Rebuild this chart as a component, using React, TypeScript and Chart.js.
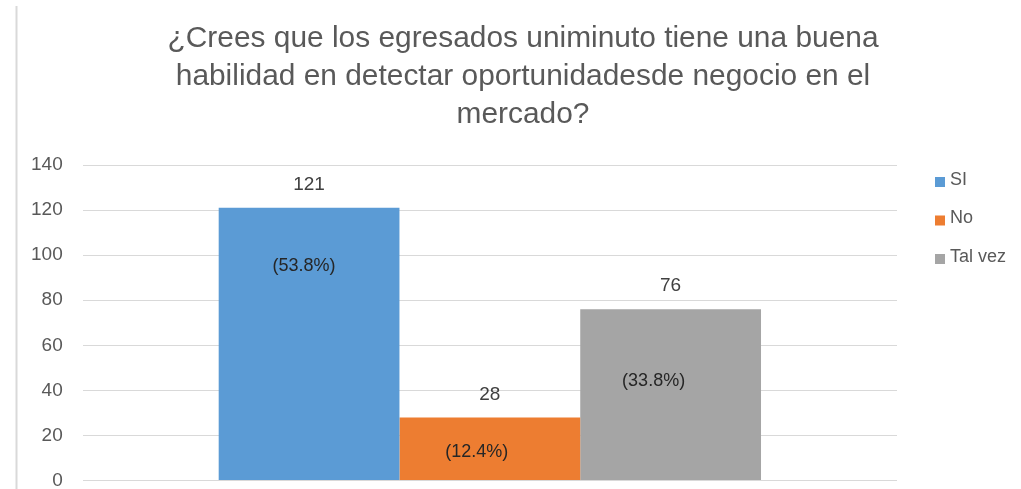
import { useEffect, useRef } from "react";
import { Chart, registerables } from "chart.js";

Chart.register(...registerables);

// ---- data ----
const categories: string[] = [""];
const seriesLabels: string[] = ["SI", "No", "Tal vez"];
const seriesValues: number[] = [121, 28, 76];
const seriesColors: string[] = ["#5B9BD5", "#ED7D31", "#A5A5A5"];
const yTickValues: number[] = [0, 20, 40, 60, 80, 100, 120, 140];
const titleLines: string[] = [
  "¿Crees que los egresados uniminuto tiene una buena",
  "habilidad en detectar oportunidadesde negocio en el",
  "mercado?",
];

// ---- layout constants (not data) ----
const pctOffsets: [number, number][] = [
  [-5, 58],
  [-13, 35],
  [-17, 72],
];
const FONT = '"Liberation Sans", Arial, sans-serif';

const decorPlugin = {
  id: "decor",
  afterDraw(chart: any) {
    const ctx: CanvasRenderingContext2D = chart.ctx;
    ctx.save();

    // left frame line
    ctx.strokeStyle = "#d9d9d9";
    ctx.lineWidth = 2;
    ctx.beginPath();
    ctx.moveTo(16.5, 6);
    ctx.lineTo(16.5, chart.height);
    ctx.stroke();

    // title
    ctx.fillStyle = "#595959";
    ctx.font = '30px "Liberation Sans Narrow", "Liberation Sans", sans-serif';
    ctx.textAlign = "center";
    ctx.textBaseline = "alphabetic";
    const w0 = ctx.measureText(titleLines[0]).width;
    const sx = 711 / w0;
    const cx = 523;
    titleLines.forEach((line, i) => {
      ctx.save();
      ctx.translate(cx, 47 + i * 38);
      ctx.scale(sx, 1);
      ctx.fillText(line, 0, 0);
      ctx.restore();
    });

    // legend
    ctx.textAlign = "left";
    ctx.textBaseline = "middle";
    ctx.font = `18px ${FONT}`;
    chart.data.datasets.forEach((ds: any, i: number) => {
      const cy = 180 + i * 38.5;
      ctx.fillStyle = ds.backgroundColor;
      ctx.fillRect(935, cy - 3, 10, 10);
      ctx.fillStyle = "#595959";
      ctx.fillText(ds.label, 950, cy);
    });

    // data labels
    const total = seriesValues.reduce((a, b) => a + b, 0);
    chart.data.datasets.forEach((ds: any, i: number) => {
      const meta = chart.getDatasetMeta(i);
      const bar = meta.data[0];
      if (!bar) return;
      const v = ds.data[0] as number;
      ctx.textAlign = "center";
      ctx.textBaseline = "middle";
      ctx.font = `19px ${FONT}`;
      ctx.fillStyle = "#404040";
      ctx.fillText(String(v), bar.x, bar.y - 23);
      ctx.font = `18px ${FONT}`;
      ctx.fillStyle = "#262626";
      const pct = `(${((v / total) * 100).toFixed(1)}%)`;
      const [dx, dy] = pctOffsets[i];
      ctx.fillText(pct, bar.x + dx, bar.y + dy);
    });

    ctx.restore();
  },
};

export default function App() {
  const ref = useRef<HTMLCanvasElement | null>(null);

  useEffect(() => {
    if (!ref.current) return;
    const chart = new Chart(ref.current, {
      type: "bar",
      data: {
        labels: categories,
        datasets: seriesLabels.map((label, i) => ({
          label,
          data: [seriesValues[i]],
          backgroundColor: seriesColors[i],
          borderWidth: 0,
          categoryPercentage: 0.666,
          barPercentage: 1,
        })),
      },
      options: {
        animation: false,
        responsive: true,
        maintainAspectRatio: false,
        layout: { padding: { top: 165, right: 124, bottom: 0, left: 11 } },
        plugins: {
          legend: { display: false },
          title: { display: false },
          tooltip: { enabled: false },
        },
        scales: {
          x: { display: false },
          y: {
            min: 0,
            max: 140,
            afterBuildTicks: (scale: any) => {
              scale.ticks = yTickValues.map((v) => ({ value: v }));
            },
            ticks: {
              padding: 20,
              color: "#595959",
              font: { family: FONT, size: 19, lineHeight: 1 },
            },
            grid: { color: "#d9d9d9", drawTicks: false, lineWidth: 1 },
            border: { display: false },
          },
        },
      } as any,
      plugins: [decorPlugin],
    });
    return () => chart.destroy();
  }, []);

  return (
    <div
      style={{
        position: "fixed",
        left: 0,
        top: 0,
        width: "1021px",
        height: "510px",
        background: "#ffffff",
      }}
    >
      <canvas ref={ref} />
    </div>
  );
}
